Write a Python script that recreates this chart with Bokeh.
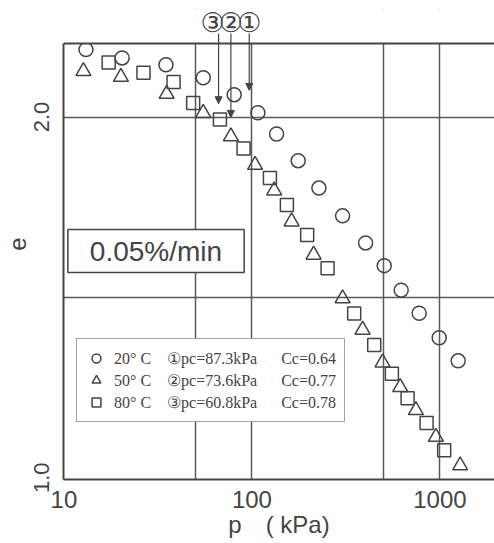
from bokeh.plotting import figure
from bokeh.models import (FixedTicker, Legend, LegendItem, Label, Arrow,
                          NormalHead, Range1d, BoxAnnotation, Span)
from bokeh.embed import file_html
from bokeh.resources import INLINE

# ---- data ----
p_20 = [13.1, 20.4, 34.9, 55.1, 80.5, 107.6, 135.3, 176.3, 227.2, 303.7,
        402.5, 505.6, 622.5, 776.2, 991.5, 1251]
e_20 = [2.187, 2.164, 2.145, 2.109, 2.062, 2.012, 1.953, 1.879, 1.803, 1.726,
        1.651, 1.588, 1.520, 1.456, 1.388, 1.324]

p_50 = [12.7, 20.1, 35.2, 55.1, 77.3, 104.0, 131.4, 162.6, 212.9, 303.7,
        388, 495.7, 615, 745.3, 952, 1282]
e_50 = [2.127, 2.111, 2.064, 2.011, 1.946, 1.867, 1.796, 1.710, 1.618, 1.497,
        1.410, 1.319, 1.251, 1.187, 1.113, 1.034]

p_80 = [17.3, 26.5, 38.3, 48.7, 67.6, 90.3, 124.7, 153.5, 196.8, 252.7,
        350, 447.3, 555.4, 673.4, 849.8, 1054]
e_80 = [2.151, 2.123, 2.097, 2.039, 1.993, 1.913, 1.831, 1.756, 1.673, 1.581,
        1.455, 1.368, 1.288, 1.220, 1.152, 1.076]

x_ticks = [10, 100, 1000]
x_tick_labels = {10: "10", 100: "100", 1000: "1000"}
x_grid = [50, 100, 500, 1000]
y_ticks = [1.0, 2.0]
y_tick_labels = {1.0: "1.0", 2.0: "2.0"}
y_grid = [1.5, 2.0]
e_min, e_max = 0.995, 2.204          # drawn box of the diagram

legend_labels = [
    "20° C\u2002\u2002①pc=87.3kPa\u2003\u2002Cc=0.64",
    "50° C\u2002\u2002②pc=73.6kPa\u2003\u2002Cc=0.77",
    "80° C\u2002\u2002③pc=60.8kPa\u2003\u2002Cc=0.78",
]
pc_marks = ["①", "②", "③"]
arrow_p = [96.8, 77.3, 66.5]        # arrow positions as drawn
arrow_tip_e = [2.074, 1.999, 2.037]
arrow_top_e = 2.232
rate_text = "0.05%/min"

INK = "#444444"
GRID = "#5a5a5a"
FONT = "Liberation Sans"

p = figure(width=494, height=543, x_axis_type="log",
           x_range=Range1d(9.95, 1952), y_range=Range1d(e_min, 2.301),
           output_backend="svg", toolbar_location=None,
           min_border_left=63, min_border_right=0, min_border_top=8,
           min_border_bottom=64, outline_line_color=None,
           background_fill_color="white", border_fill_color="white")

# grid
p.xgrid.ticker = FixedTicker(ticks=x_grid)
p.ygrid.ticker = FixedTicker(ticks=y_grid)
for g in (p.xgrid[0], p.ygrid[0]):
    g.grid_line_color = GRID
    g.grid_line_width = 1.5

# axes
p.xaxis.ticker = FixedTicker(ticks=x_ticks)
p.xaxis.major_label_overrides = x_tick_labels
p.yaxis.ticker = FixedTicker(ticks=y_ticks)
p.yaxis.major_label_overrides = y_tick_labels
p.yaxis.major_label_orientation = "vertical"
p.yaxis.bounds = (e_min, e_max)
for ax in (p.xaxis[0], p.yaxis[0]):
    ax.axis_line_color = INK
    ax.axis_line_width = 2
    ax.major_tick_line_color = None
    ax.minor_tick_line_color = None
    ax.major_label_text_font = FONT
    ax.major_label_text_color = INK
    ax.axis_label_text_font = FONT
    ax.axis_label_text_font_style = "normal"
    ax.axis_label_text_color = INK
p.xaxis.major_label_text_font_size = "24px"
p.yaxis.major_label_text_font_size = "22px"
p.xaxis.axis_label = "p\u2002\u2002( kPa)"
p.yaxis.axis_label = "e"
p.xaxis.axis_label_text_font_size = "24px"
p.yaxis.axis_label_text_font_size = "24px"
p.xaxis.major_label_standoff = 5
p.yaxis.major_label_standoff = 8
p.xaxis.axis_label_standoff = 0
p.yaxis.axis_label_standoff = 6

# blank area above the diagram box, and the box's top line
p.add_layout(BoxAnnotation(bottom=e_max, fill_color="white", fill_alpha=1.0,
                           line_color=None, level="glyph"))
p.add_layout(Span(location=e_max, dimension="width", line_color=INK,
                  line_width=2))

# data
r20 = p.scatter(p_20, e_20, marker="circle", size=14, fill_color=None,
                line_color=INK, line_width=1.5)
r50 = p.scatter(p_50, e_50, marker="triangle", size=15, fill_color=None,
                line_color=INK, line_width=1.5)
r80 = p.scatter(p_80, e_80, marker="square", size=13, fill_color=None,
                line_color=INK, line_width=1.5)

legend = Legend(items=[LegendItem(label=legend_labels[0], renderers=[r20]),
                       LegendItem(label=legend_labels[1], renderers=[r50]),
                       LegendItem(label=legend_labels[2], renderers=[r80])],
                location=(13, 57), padding=8, spacing=0, margin=0,
                glyph_width=22, glyph_height=22, label_height=22,
                label_standoff=7, border_line_color=INK, border_line_width=1.5,
                background_fill_color="white", background_fill_alpha=1.0,
                label_text_font="Liberation Serif", label_text_font_size="16px",
                label_text_color=INK)
p.add_layout(legend)

# rate box
p.add_layout(Label(x=92.5, y=228.5, x_units="screen", y_units="screen",
                   text=rate_text, text_font=FONT, text_font_size="28px",
                   text_color=INK, text_align="center", text_baseline="middle",
                   border_line_color=INK, border_line_width=1.5,
                   background_fill_color="white", padding=(22, 6)))

# pc arrows and circled numbers
offsets = [0, 0, -6]
for xp, tip, mark, off in zip(arrow_p, arrow_tip_e, pc_marks, offsets):
    p.add_layout(Arrow(x_start=xp, y_start=arrow_top_e, x_end=xp, y_end=tip,
                       line_color=INK, line_width=1.2,
                       end=NormalHead(size=7, line_color=INK, fill_color=INK)))
    p.add_layout(Label(x=xp, y=457, y_units="screen", text=mark, x_offset=off,
                       text_font="DejaVu Sans", text_font_size="27px",
                       text_color=INK, text_align="center", text_baseline="middle"))

open("out.html", "w").write(file_html(p, INLINE))
